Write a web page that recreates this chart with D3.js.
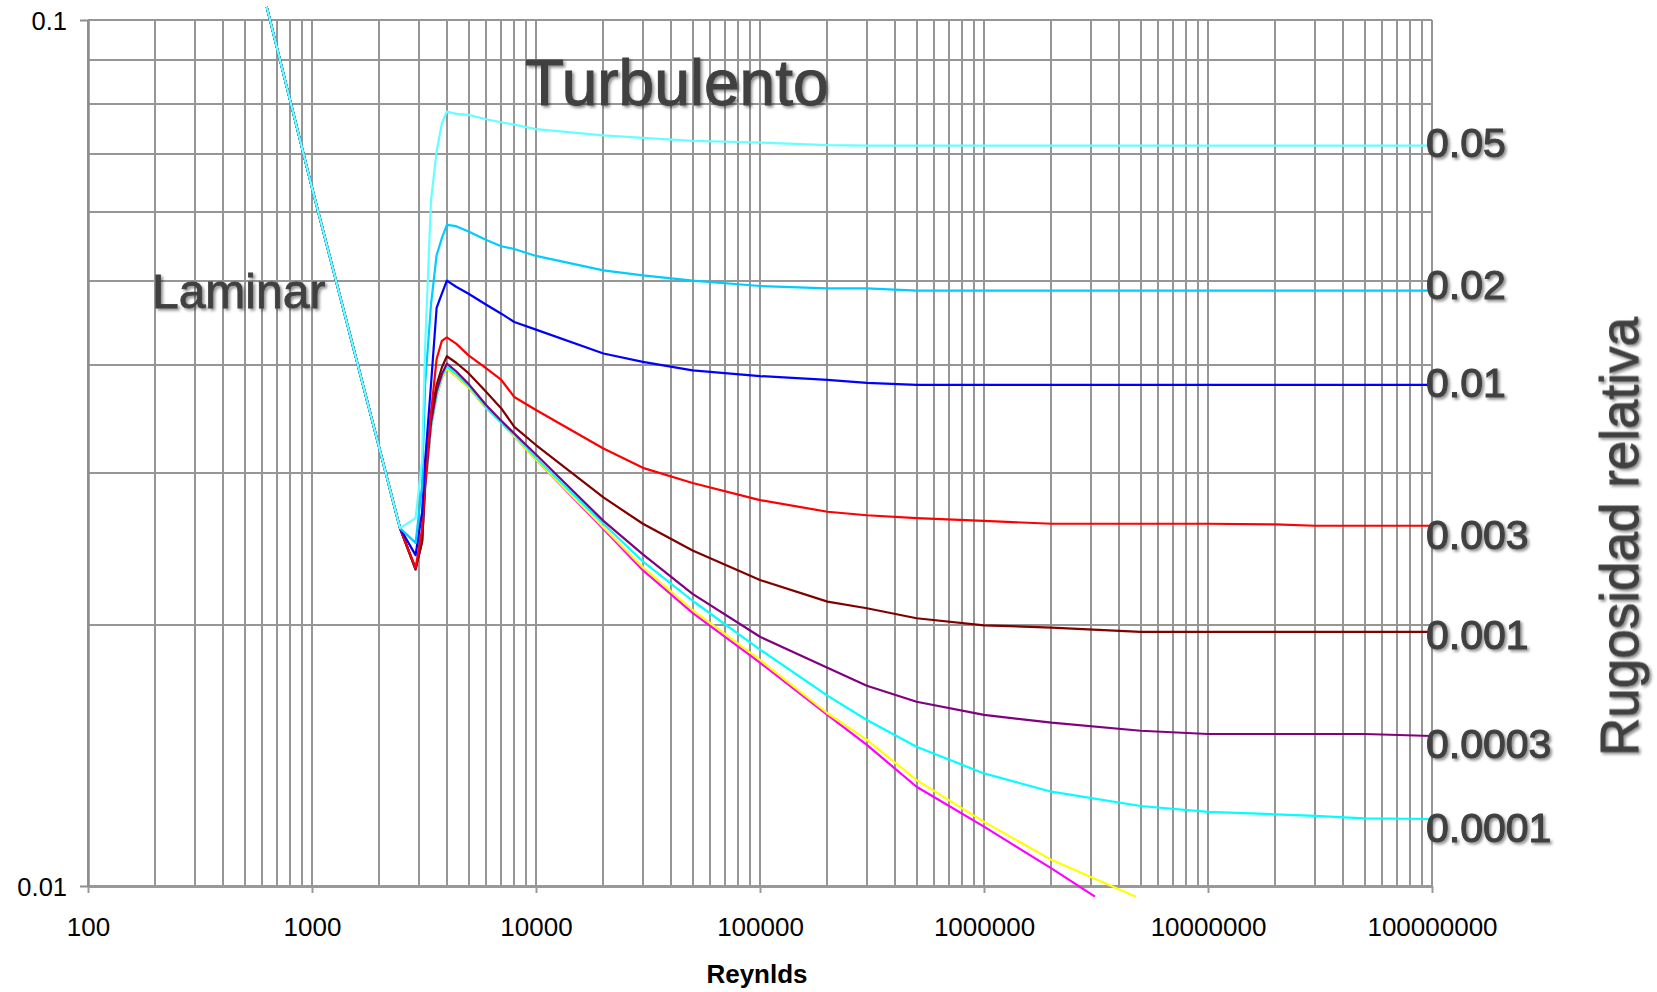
<!DOCTYPE html>
<html>
<head>
<meta charset="utf-8">
<script src="https://cdn.jsdelivr.net/npm/d3@7"></script>
<style>
  html, body { margin: 0; padding: 0; background: #fff; }
  svg { display: block; font-family: "Liberation Sans", Arial, sans-serif; }
</style>
</head>
<body>
<svg id="chart" width="1657" height="992"></svg>
<script>
// ---------------- DATA ----------------
// shared laminar branch
const laminarRe = [628, 1000, 2000, 2470];
const laminarF  = [0.1035, 0.064, 0.032, 0.0259];

// Reynolds numbers of the transition / turbulent points
const flowRe = [2900, 3100, 3200, 3400, 3600, 3800, 4000, 4400, 5000, 6000, 7000, 8000,
  10000, 20000, 30000, 50000, 1e5, 2e5, 3e5, 5e5, 1e6, 2e6, 3.13e6, 4.77e6, 5e6,
  1e7, 2e7, 3e7, 5e7, 1e8];

// friction factor per relative roughness
const f_005 = [0.0266, 0.0310, 0.0420, 0.0620, 0.0705, 0.0760, 0.0784, 0.0779, 0.0777, 0.0768, 0.0762, 0.0757,
  0.0748, 0.0736, 0.0731, 0.0725, 0.0722, 0.0717, 0.0716, 0.0716, 0.0716, 0.0716, null, null, 0.0716,
  0.0716, 0.0716, 0.0716, 0.0716, 0.0716];
const f_002 = [0.0249, 0.0290, 0.0380, 0.0470, 0.0535, 0.0560, 0.0580, 0.0578, 0.0570, 0.0557, 0.0548, 0.0544,
  0.0534, 0.0514, 0.0507, 0.0500, 0.0493, 0.0490, 0.0490, 0.0487, 0.0487, 0.0487, null, null, 0.0487,
  0.0487, 0.0487, 0.0487, 0.0487, 0.0487];
const f_001 = [0.0241, 0.0270, 0.0310, 0.0380, 0.0465, 0.0483, 0.0500, 0.0492, 0.0483, 0.0469, 0.0458, 0.0448,
  0.0439, 0.0412, 0.0403, 0.0394, 0.0388, 0.0384, 0.0381, 0.0379, 0.0379, 0.0379, null, null, 0.0379,
  0.0379, 0.0379, 0.0379, 0.0379, 0.0379];
const f_0003 = [0.0233, 0.0258, 0.0292, 0.0352, 0.0406, 0.0426, 0.0430, 0.0423, 0.0410, 0.0396, 0.0384, 0.0367,
  0.03545, 0.0320, 0.0304, 0.0292, 0.0279, 0.02705, 0.0268, 0.0266, 0.0264, 0.0262, null, null, 0.0262,
  0.0262, 0.02616, 0.02606, 0.02606, 0.02606];
const f_0001 = [0.02325, 0.0250, 0.0294, 0.0350, 0.0379, 0.0397, 0.0409, 0.0402, 0.0391, 0.0372, 0.0356, 0.0339,
  0.0323, 0.0281, 0.0262, 0.0244, 0.02256, 0.0213, 0.02093, 0.02038, 0.0200, 0.01988, null, null, 0.01965,
  0.01965, 0.01965, 0.01965, 0.01965, 0.01965];
const f_00003 = [0.0232, 0.0250, 0.0290, 0.0343, 0.0373, 0.0390, 0.0401, 0.0393, 0.0380, 0.0359, 0.03445, 0.0333,
  0.0315, 0.0264, 0.02415, 0.02174, 0.0194, 0.01787, 0.01703, 0.01632, 0.01576, 0.01544, null, null, 0.01511,
  0.01498, 0.01498, 0.01498, 0.01498, 0.0149];
const f_00001 = [0.0232, 0.0250, 0.0290, 0.0340, 0.0370, 0.0388, 0.0398, 0.0390, 0.0378, 0.0357, 0.0343, 0.0332,
  0.0312, 0.0262, 0.0237, 0.02135, 0.01875, 0.01659, 0.01555, 0.01448, 0.01349, 0.01285, null, null, 0.01237,
  0.01218, 0.0121, 0.01205, 0.01197, 0.01195];
const f_smoothA = [0.0232, 0.0250, 0.0288, 0.0340, 0.0368, 0.0386, 0.0396, 0.0388, 0.03766, 0.03561, 0.0343, 0.03303,
  0.03109, 0.02595, 0.02333, 0.02083, 0.01824, 0.01583, 0.01475, 0.01325, 0.01186, 0.01072, null, 0.00972, null,
  null, null, null, null, null];
const f_smoothB = [0.0232, 0.0250, 0.0288, 0.0340, 0.0368, 0.0386, 0.0396, 0.0388, 0.03766, 0.03561, 0.0343, 0.03303,
  0.03109, 0.02583, 0.02316, 0.02067, 0.01811, 0.01576, 0.01455, 0.01302, 0.01171, 0.01048, 0.00972, null, null,
  null, null, null, null, null];

const xTickValues = [100, 1000, 10000, 100000, 1000000, 10000000, 100000000];
const xTickLabels = ["100", "1000", "10000", "100000", "1000000", "10000000", "100000000"];
const yTickValues = [0.01, 0.1];
const yTickLabels = ["0.01", "0.1"];

// ---------------- STYLE / CONFIG ----------------
// drawing order: first drawn is at the bottom
const series = [
  { values: f_smoothB, color: "#FF00FF", label: null },
  { values: f_smoothA, color: "#FFFF00", label: null },
  { values: f_00001,   color: "#00FFFF", label: "0.0001", nudge: 8.5 },
  { values: f_00003,   color: "#800080", label: "0.0003", nudge: 7 },
  { values: f_0001,    color: "#800000", label: "0.001",  nudge: 2 },
  { values: f_0003,    color: "#FF0000", label: "0.003",  nudge: 8 },
  { values: f_001,     color: "#0000FF", label: "0.01",   nudge: -2.5 },
  { values: f_002,     color: "#00CCFF", label: "0.02",   nudge: -6 },
  { values: f_005,     color: "#66FFFF", label: "0.05",   nudge: -3.5 }
];

const plot = { left: 88, right: 1432, top: 20, bottom: 886 };

const svg = d3.select("#chart");
const x = d3.scaleLog().domain([100, 1e8]).range([plot.left, plot.right]);
const y = d3.scaleLog().domain([0.01, 0.1]).range([plot.bottom, plot.top]);

// shadow filter for the annotations
const defs = svg.append("defs");
const filt = defs.append("filter").attr("id", "shadow")
  .attr("x", "-10%").attr("y", "-20%").attr("width", "130%").attr("height", "150%");
filt.append("feDropShadow").attr("dx", 2).attr("dy", 2).attr("stdDeviation", 1.6)
  .attr("flood-color", "#000").attr("flood-opacity", 0.45);

// ---------------- GRID ----------------
const grid = svg.append("g").attr("shape-rendering", "crispEdges");
grid.selectAll("line.v").data(x.ticks()).join("line")
  .attr("x1", d => x(d)).attr("x2", d => x(d))
  .attr("y1", plot.top).attr("y2", plot.bottom)
  .attr("stroke", "#969696").attr("stroke-width", 2);
grid.selectAll("line.h").data(y.ticks()).join("line")
  .attr("y1", d => y(d)).attr("y2", d => y(d))
  .attr("x1", plot.left).attr("x2", plot.right)
  .attr("stroke", "#969696").attr("stroke-width", 2);

// ---------------- AXES ----------------
const xAxis = d3.axisBottom(x).tickValues(xTickValues)
  .tickFormat((d, i) => xTickLabels[i]).tickSize(7).tickSizeOuter(0);
const gx = svg.append("g").attr("transform", `translate(0,${plot.bottom})`).call(xAxis);
gx.select(".domain").attr("stroke", "#999").attr("stroke-width", 3);
gx.selectAll(".tick line").attr("stroke", "#999").attr("stroke-width", 2);
gx.selectAll(".tick text").attr("y", 50).attr("dy", 0)
  .attr("font-size", 26).attr("fill", "#000")
  .attr("font-family", "'Liberation Sans', Arial, sans-serif");

const yAxis = d3.axisLeft(y).tickValues(yTickValues)
  .tickFormat((d, i) => yTickLabels[i]).tickSize(8).tickPadding(13).tickSizeOuter(0);
const gy = svg.append("g").attr("transform", `translate(${plot.left},0)`).call(yAxis);
gy.select(".domain").attr("stroke", "#8c8c8c").attr("stroke-width", 2.5);
gy.selectAll(".tick line").attr("stroke", "#8c8c8c").attr("stroke-width", 2);
gy.selectAll(".tick text").attr("dy", "0.36em")
  .attr("font-size", 25.5).attr("fill", "#000")
  .attr("font-family", "'Liberation Sans', Arial, sans-serif");

// ---------------- LINES ----------------
const line = d3.line().x(d => x(d[0])).y(d => y(d[1]));
const seriesPoints = s => {
  const pts = laminarRe.map((r, i) => [r, laminarF[i]]);
  flowRe.forEach((r, i) => { if (s.values[i] != null) pts.push([r, s.values[i]]); });
  return pts;
};
svg.append("g").selectAll("path").data(series).join("path")
  .attr("d", s => line(seriesPoints(s)))
  .attr("fill", "none")
  .attr("stroke", s => s.color)
  .attr("stroke-width", 2.2)
  .attr("stroke-linejoin", "round");

// ---------------- LABELS ----------------
const annot = svg.append("g").attr("fill", "#404040").attr("filter", "url(#shadow)");
series.filter(s => s.label).forEach(s => {
  const pts = seriesPoints(s);
  const last = pts[pts.length - 1];
  annot.append("text")
    .attr("x", x(last[0]) - 6)
    .attr("y", y(last[1]) + s.nudge)
    .attr("dy", "0.36em")
    .attr("font-size", 41)
    .attr("stroke", "#404040").attr("stroke-width", 1.1)
    .text(s.label);
});

annot.append("text")
  .attr("x", x(8930)).attr("y", y(0.0798))
  .attr("font-size", 64).attr("stroke", "#404040").attr("stroke-width", 1)
  .text("Turbulento");

annot.append("text")
  .attr("x", x(193)).attr("y", y(0.0465))
  .attr("font-size", 48).attr("stroke", "#404040").attr("stroke-width", 0.8)
  .text("Laminar");

annot.append("text")
  .attr("transform", "translate(1638,536.5) rotate(-90)")
  .attr("text-anchor", "middle")
  .attr("font-size", 53).attr("stroke", "#404040").attr("stroke-width", 0.8)
  .text("Rugosidad relativa");

svg.append("text")
  .attr("x", 757).attr("y", 983)
  .attr("text-anchor", "middle")
  .attr("font-size", 26).attr("font-weight", "bold").attr("fill", "#000")
  .text("Reynlds");
</script>
</body>
</html>
